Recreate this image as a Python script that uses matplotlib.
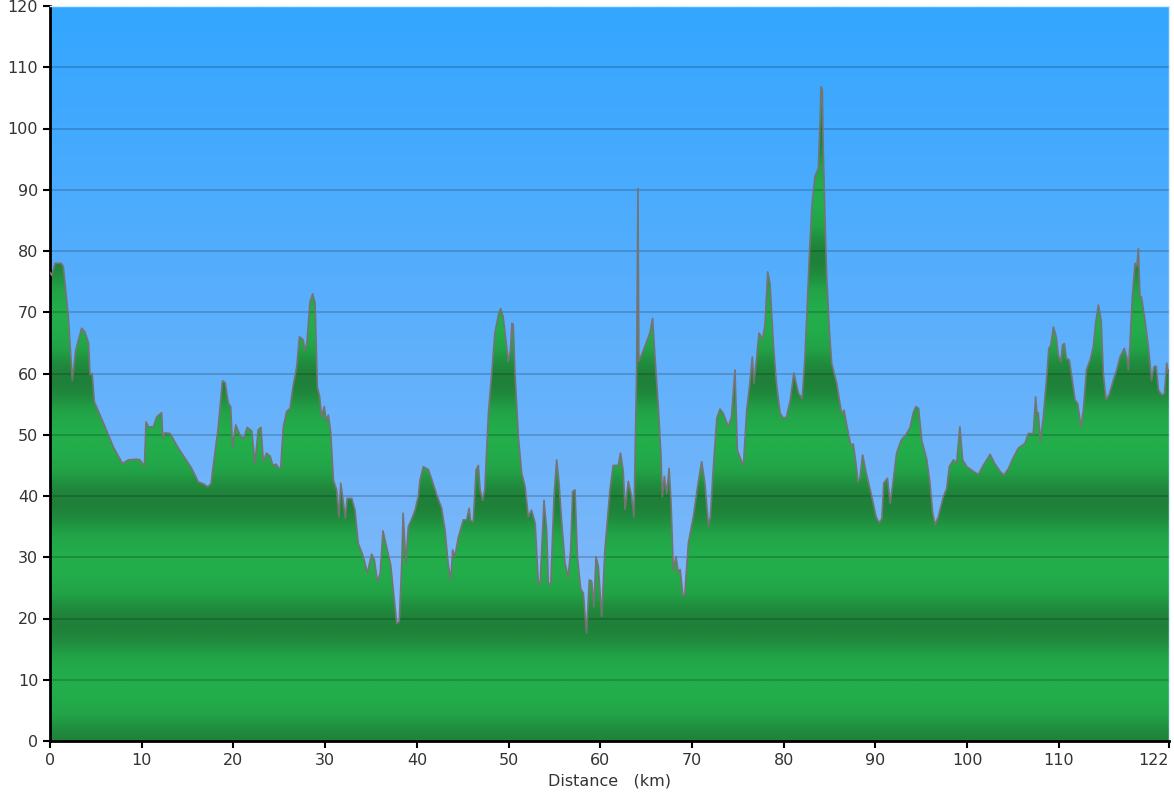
import numpy as np
import matplotlib
matplotlib.use('Agg')
import matplotlib.pyplot as plt
from matplotlib.colors import LinearSegmentedColormap
from matplotlib.patches import Polygon

# Elevation profile (distance in km, elevation)
distance = [0.0, 0.2, 0.55, 1.2, 1.45, 2.0, 2.43, 2.8, 3.45, 3.8, 4.2, 4.36, 4.6, 4.83, 6.0, 6.9, 7.9, 8.55,
            9.45, 9.8, 10.3, 10.47, 10.72, 11.27, 11.63, 12.17, 12.3, 12.5, 13.1, 14.0, 14.7, 15.45, 16.17, 16.7,
            17.2, 17.55, 18.35, 18.8, 19.1, 19.45, 19.7, 19.9, 20.25, 20.7, 21.1, 21.5, 22.0, 22.35, 22.7, 23.0,
            23.26, 23.6, 24.0, 24.3, 24.65, 25.0, 25.15, 25.44, 25.8, 26.17, 26.5, 26.9, 27.2, 27.6, 27.8, 28.0,
            28.35, 28.64, 28.9, 29.15, 29.4, 29.6, 29.9, 30.1, 30.35, 30.6, 30.9, 31.25, 31.5, 31.7, 31.9, 32.2,
            32.4, 32.9, 33.25, 33.6, 34.16, 34.6, 35.07, 35.36, 35.7, 36.0, 36.3, 36.7, 37.15, 37.5, 37.8, 38.08,
            38.35, 38.5, 38.8, 39.07, 39.4, 39.8, 40.15, 40.34, 40.7, 41.25, 41.6, 42.16, 42.7, 43.07, 43.4, 43.7,
            43.9, 44.15, 44.5, 45.06, 45.43, 45.7, 45.85, 46.15, 46.45, 46.7, 46.9, 47.17, 47.4, 47.8, 48.16, 48.5,
            48.9, 49.13, 49.4, 49.7, 49.97, 50.2, 50.37, 50.5, 50.7, 51.06, 51.43, 51.8, 52.15, 52.5, 52.9, 53.24,
            53.45, 53.86, 54.15, 54.33, 54.6, 54.95, 55.24, 55.5, 55.8, 56.15, 56.5, 56.77, 56.98, 57.24, 57.5,
            57.85, 58.15, 58.5, 58.8, 59.06, 59.3, 59.53, 59.78, 60.15, 60.5, 61.05, 61.4, 61.96, 62.2, 62.5, 62.7,
            63.05, 63.4, 63.67, 63.96, 64.1, 64.2, 64.7, 65.05, 65.4, 65.7, 65.96, 66.3, 66.6, 66.76, 66.98, 67.24,
            67.5, 67.7, 67.96, 68.25, 68.5, 68.7, 69.0, 69.2, 69.6, 70.14, 70.6, 71.05, 71.4, 71.8, 72.0, 72.3,
            72.7, 73.05, 73.4, 73.95, 74.3, 74.68, 74.94, 75.3, 75.6, 75.96, 76.3, 76.57, 76.75, 77.05, 77.3, 77.7,
            77.95, 78.25, 78.5, 78.86, 79.2, 79.6, 79.95, 80.3, 80.7, 81.1, 81.6, 82.0, 82.3, 82.57, 82.8, 83.05,
            83.4, 83.77, 83.95, 84.06, 84.2, 84.3, 84.5, 84.68, 84.97, 85.22, 85.77, 86.3, 86.57, 86.9, 87.3,
            87.58, 87.87, 88.1, 88.3, 88.6, 89.0, 89.6, 90.06, 90.4, 90.7, 90.9, 91.3, 91.6, 91.94, 92.3, 92.8,
            93.3, 93.76, 94.1, 94.4, 94.7, 95.04, 95.6, 95.94, 96.24, 96.5, 96.85, 97.4, 97.76, 98.05, 98.5, 98.85,
            99.2, 99.5, 99.95, 100.5, 101.2, 101.75, 102.5, 103.0, 103.6, 104.0, 104.5, 105.0, 105.57, 106.3,
            106.66, 107.2, 107.46, 107.6, 107.75, 107.97, 108.3, 108.67, 108.9, 109.1, 109.4, 109.7, 109.93, 110.2,
            110.4, 110.6, 110.8, 111.13, 111.46, 111.75, 112.05, 112.4, 112.66, 113.0, 113.4, 113.75, 114.0, 114.3,
            114.6, 114.84, 115.13, 115.46, 115.93, 116.3, 116.66, 117.13, 117.4, 117.57, 117.75, 118.0, 118.3,
            118.5, 118.66, 118.84, 119.0, 119.38, 119.75, 120.1, 120.37, 120.6, 120.85, 121.2, 121.5, 121.75,
            121.93, 122.0]
elevation = [76.5, 76.0, 78.0, 78.0, 77.5, 69.3, 58.9, 63.8, 67.4, 66.8, 65.0, 59.8, 60.0, 55.4, 51.3, 48.0, 45.3,
             45.9, 46.0, 45.9, 44.9, 52.1, 51.3, 51.3, 52.9, 53.6, 49.4, 50.3, 50.2, 47.8, 46.2, 44.5, 42.3, 42.0,
             41.5, 42.0, 51.3, 58.8, 58.5, 55.1, 54.6, 48.0, 51.6, 50.0, 49.3, 51.2, 50.6, 45.3, 50.8, 51.2, 45.6,
             47.0, 46.5, 45.0, 45.2, 44.4, 44.7, 51.3, 53.8, 54.3, 57.9, 61.1, 66.0, 65.5, 63.8, 64.9, 71.7, 73.0,
             71.5, 57.8, 56.2, 52.9, 54.6, 52.4, 53.2, 50.5, 42.6, 41.0, 36.6, 42.1, 39.9, 36.4, 39.6, 39.6, 37.7,
             32.3, 30.1, 27.4, 30.5, 29.6, 26.0, 27.4, 34.3, 31.7, 28.7, 23.6, 19.2, 19.5, 29.0, 37.2, 29.0, 35.0,
             36.1, 37.7, 39.9, 42.6, 44.8, 44.3, 42.8, 40.2, 38.0, 34.4, 29.0, 26.3, 31.2, 30.1, 33.1, 36.1, 36.1,
             38.0, 36.0, 35.8, 44.2, 45.0, 41.0, 39.3, 41.0, 53.5, 60.0, 66.6, 69.6, 70.6, 69.3, 65.5, 61.9, 63.8,
             68.2, 68.0, 60.0, 49.7, 43.7, 41.5, 36.6, 37.7, 35.5, 25.7, 26.0, 39.3, 34.4, 25.7, 25.7, 39.9, 45.9,
             42.1, 35.5, 29.0, 26.8, 31.2, 40.7, 41.0, 30.1, 24.9, 24.1, 17.6, 26.3, 26.1, 21.9, 30.1, 28.5, 20.3,
             31.2, 41.0, 45.0, 45.0, 47.0, 44.0, 37.8, 42.4, 40.0, 36.6, 60.6, 90.2, 62.0, 63.8, 65.2, 66.6, 69.0,
             62.7, 55.1, 47.0, 39.9, 43.2, 40.4, 44.5, 39.3, 27.9, 30.1, 27.4, 28.0, 23.8, 23.8, 32.3, 36.6, 41.5,
             45.6, 42.1, 35.0, 36.6, 44.2, 52.7, 54.2, 53.5, 51.3, 52.9, 60.6, 47.5, 46.0, 45.0, 54.0, 58.4, 62.7,
             58.4, 62.7, 66.6, 65.7, 67.9, 76.6, 74.7, 64.9, 58.4, 53.5, 52.7, 52.9, 55.6, 60.1, 56.8, 55.9, 62.5,
             71.5, 79.6, 87.0, 92.2, 93.5, 100.8, 106.8, 106.3, 97.0, 85.0, 75.8, 67.1, 61.7, 58.4, 53.5, 54.0,
             51.3, 48.3, 48.5, 45.3, 42.3, 42.9, 46.7, 43.7, 39.9, 36.6, 35.6, 36.3, 42.1, 42.9, 38.8, 42.6, 47.0,
             49.1, 50.0, 51.1, 53.5, 54.6, 54.3, 49.1, 45.9, 42.1, 37.2, 35.3, 36.6, 39.9, 41.2, 44.8, 45.9, 45.4,
             51.3, 45.9, 44.8, 44.2, 43.5, 45.0, 46.8, 45.3, 44.0, 43.4, 44.5, 46.2, 47.8, 48.6, 50.2, 50.2, 56.2,
             53.5, 53.6, 48.9, 52.9, 59.5, 64.1, 64.5, 67.6, 66.0, 63.0, 61.9, 64.7, 64.9, 62.5, 62.2, 58.9, 55.7,
             55.1, 51.3, 54.0, 60.6, 62.2, 64.4, 68.2, 71.2, 68.7, 60.0, 55.7, 56.5, 58.9, 60.6, 62.7, 64.1, 62.7,
             60.6, 64.9, 72.5, 78.0, 77.5, 80.4, 72.5, 72.5, 68.7, 64.4, 58.9, 61.1, 61.2, 57.3, 56.5, 56.7, 61.7,
             60.0, 60.5]

x_ticks = [0, 10, 20, 30, 40, 50, 60, 70, 80, 90, 100, 110, 122]
y_ticks = list(range(0, 121, 10))

fig = plt.figure(figsize=(11.74, 8), dpi=100)
ax = fig.add_axes([50 / 1174, 1 - 741 / 800, 1119 / 1174, 735 / 800])
ax.set_xlim(0, 122)
ax.set_ylim(0, 120)

# sky: vertical blue gradient
sky_cmap = LinearSegmentedColormap.from_list('sky', ['#92bcf8', '#33a6ff'])
sky = np.linspace(0, 1, 400).reshape(-1, 1)
ax.imshow(sky, cmap=sky_cmap, origin='lower', extent=[0, 122, 0, 120], aspect='auto', zorder=0)

# ground: soft banded green gradient clipped to the profile
green_cmap = LinearSegmentedColormap.from_list('green', ['#1f8139', '#22a247', '#23ae4b'])
h = np.linspace(0, 120, 1200)
band = 0.5 + 0.5 * np.cos(2 * np.pi * (h - 9) / 20)
im = ax.imshow(band.reshape(-1, 1), cmap=green_cmap, origin='lower', extent=[0, 122, 0, 120],
               aspect='auto', zorder=1, vmin=0, vmax=1)
verts = [(0, 0)] + list(zip(distance, elevation)) + [(distance[-1], 0)]
clip = Polygon(verts, closed=True, transform=ax.transData, facecolor='none', edgecolor='none')
ax.add_patch(clip)
im.set_clip_path(clip)

ax.plot(distance, elevation, color='#747474', lw=1.2, zorder=3)

# grid
for y in y_ticks[1:]:
    ax.axhline(y, color='black', alpha=0.2, lw=1.2, zorder=2)

ax.set_xticks(x_ticks)
ax.set_yticks(y_ticks)
ax.tick_params(direction='out', length=5, width=1.5, colors='black', labelcolor='#333333', labelsize=11.5)
ax.get_xticklabels()[-1].set_horizontalalignment('right')
for s in ['top', 'right']:
    ax.spines[s].set_color('#d8ecff')
    ax.spines[s].set_linewidth(1)
ax.spines['left'].set_linewidth(2)
ax.spines['bottom'].set_linewidth(2)
ax.set_xlabel('Distance   (km)', fontsize=11.5, color='#333333', labelpad=4)

fig.savefig('out.png', dpi=100)
